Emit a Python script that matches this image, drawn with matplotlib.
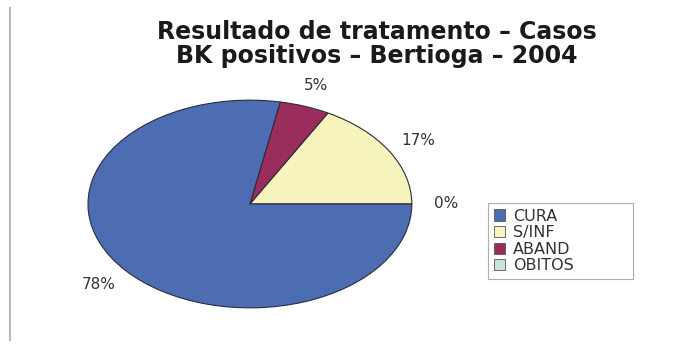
import matplotlib.pyplot as plt
import matplotlib.patches as mpatches

# treatment outcome, BK positive cases
categorias = ['CURA', 'S/INF', 'ABAND', 'OBITOS']
valores = [78, 17, 5, 0]
cores = ['#4D6DB3', '#F6F3BC', '#9A2D5C', '#C9E1DF']

fig = plt.figure(figsize=(6.88, 3.46), dpi=100)
fig.patch.set_facecolor('white')

# ellipse-shaped pie: axes stretched wider than tall
ax = fig.add_axes([39.4 / 688, 7 / 346, 421 / 688, 270 / 346])

# counterclockwise from 3 o'clock: OBITOS, S/INF, ABAND, CURA
ordem = [3, 1, 2, 0]
wedges, textos, pcts = ax.pie(
    [valores[i] for i in ordem],
    colors=[cores[i] for i in ordem],
    startangle=0,
    counterclock=True,
    autopct='%1.0f%%',
    pctdistance=1.21,
    wedgeprops=dict(edgecolor='#2b2b3a', linewidth=0.8),
    textprops=dict(fontsize=11, color='#333333', family='DejaVu Sans'),
)
ax.set_aspect('auto')
ax.set_xlim(-1.3, 1.3)
ax.set_ylim(-1.3, 1.3)
for t in pcts:
    t.set_clip_on(False)

fig.suptitle('Resultado de tratamento \u2013 Casos\nBK positivos \u2013 Bertioga \u2013 2004',
             x=377 / 688, y=1 - 20 / 346, fontsize=17, fontweight='bold',
             family='DejaVu Sans', color='#1a1a1a', linespacing=0.98, va='top')

handles = [mpatches.Patch(facecolor=c, edgecolor='#555555', linewidth=0.6) for c in cores]
leg = fig.legend(handles, categorias, loc='upper left', mode='expand',
                 bbox_to_anchor=(488 / 688, 1 - 276 / 346, 145 / 688, 73 / 346),
                 prop=dict(family='DejaVu Sans', size=11.5),
                 frameon=True, fancybox=False, borderpad=0.35,
                 labelspacing=0.1, handlelength=0.7, handleheight=0.7,
                 handletextpad=0.5, borderaxespad=0)
leg.get_frame().set_edgecolor('#999999')
leg.get_frame().set_linewidth(0.8)
for t in leg.get_texts():
    t.set_color('#333333')

# left border line of the frame
fig.add_artist(plt.Line2D([10 / 688, 10 / 688], [1 - 8 / 346, 1 - 340 / 346],
                          color='#b8b8b8', linewidth=1.5))

fig.savefig('out.png', dpi=100)
